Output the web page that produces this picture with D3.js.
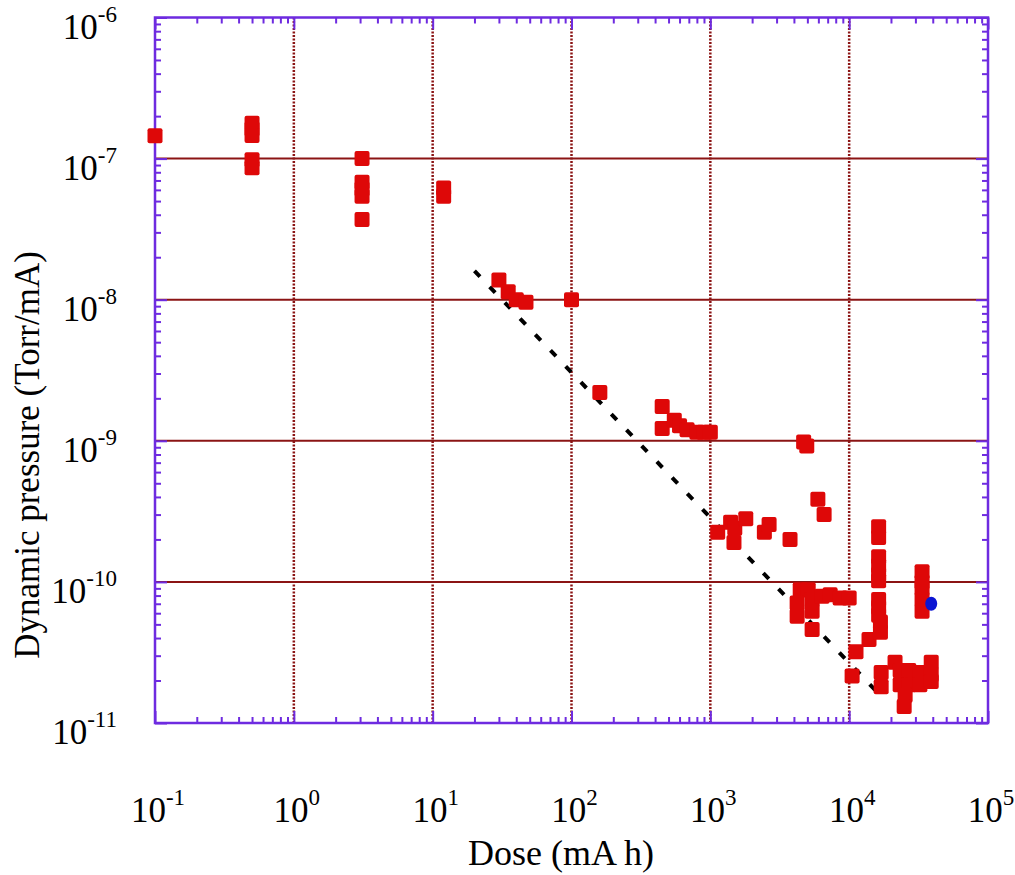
<!DOCTYPE html>
<html>
<head>
<meta charset="utf-8">
<script src="https://cdn.jsdelivr.net/npm/d3@7"></script>
<style>
  body { margin: 0; background: #fff; }
  svg { display: block; font-family: "Liberation Serif", "Times New Roman", serif; }
</style>
</head>
<body>
<div id="chart"></div>
<script>
// red points: dose (mA h) and dynamic pressure (Torr/mA)
var dose = [0.1, 0.5, 0.5, 0.5, 0.5, 0.5,
    3.1, 3.1, 3.1, 3.1, 3.1, 12, 12,
    30, 35, 40, 47, 100, 160,
    450, 450, 550, 600, 680, 800, 900, 1000,
    4700, 4950, 5950, 6600,
    1130, 1400, 1500, 1480, 1800, 2450, 2650, 3750,
    4440, 5070, 4220, 4220, 5410, 5410, 5410, 6380, 7290, 8610, 10000,
    11200, 10500, 13900,
    16300, 16300, 16300, 16300, 16300, 16300, 16300, 16300, 16300, 16800, 16800,
    33500, 33500, 33500, 33500, 33500,
    17000, 17000, 21400, 23300, 26900, 23300, 26900, 25300, 24900, 32300, 32300, 39000, 39000, 39000];
var pressure = [1.45e-7, 1.78e-7, 1.62e-7, 1.46e-7, 9.8e-8, 8.6e-8,
    1.0e-7, 6.8e-8, 6.1e-8, 5.4e-8, 3.7e-8, 6.2e-8, 5.4e-8,
    1.38e-8, 1.14e-8, 1.0e-8, 9.6e-9, 1.0e-8, 2.2e-9,
    1.75e-9, 1.22e-9, 1.4e-9, 1.28e-9, 1.2e-9, 1.15e-9, 1.15e-9, 1.15e-9,
    9.8e-10, 9.2e-10, 3.85e-10, 3.0e-10,
    2.25e-10, 2.65e-10, 2.4e-10, 1.9e-10, 2.8e-10, 2.25e-10, 2.55e-10, 2.0e-10,
    8.8e-11, 8.8e-11, 7.1e-11, 5.7e-11, 7.5e-11, 6.2e-11, 4.6e-11, 7.9e-11, 8.1e-11, 7.7e-11, 7.7e-11,
    3.2e-11, 2.15e-11, 3.9e-11,
    2.46e-10, 2.06e-10, 1.51e-10, 1.3e-10, 1.13e-10, 1.02e-10, 7.5e-11, 6.6e-11, 5.8e-11, 5.2e-11, 4.4e-11,
    1.18e-10, 1.0e-10, 9.0e-11, 7.5e-11, 6.2e-11,
    2.28e-11, 1.81e-11, 2.69e-11, 2.36e-11, 2.36e-11, 1.87e-11, 1.87e-11, 1.57e-11, 1.31e-11, 2.28e-11, 1.87e-11, 2.69e-11, 2.21e-11, 1.97e-11];

// blue point
var blueDose = [39000];
var bluePressure = [7.0e-11];

// dashed fit line end points
var fitDose = [20, 15500];
var fitPressure = [1.6e-8, 1.7e-11];

var xDecades = [-1, 0, 1, 2, 3, 4, 5];
var yDecades = [-6, -7, -8, -9, -10, -11];

var width = 1015, height = 875;
var mLeft = 155, mRight = 988, mTop = 17.5, mBottom = 723;
var purple = "#6e2be0", gridRed = "#8b1414";

var svg = d3.select("#chart").append("svg")
    .attr("width", width)
    .attr("height", height);

var x = d3.scaleLog().domain([0.1, 1e5]).range([mLeft, mRight]);
var y = d3.scaleLog().domain([1e-11, 1e-6]).range([mBottom, mTop]);

var xMajor = xDecades.map(function(e){ return Math.pow(10, e); });
var yMajor = yDecades.map(function(e){ return Math.pow(10, e); });
function notDecade(v){ return Math.abs(Math.log10(v) - Math.round(Math.log10(v))) > 1e-6; }
var xMinor = x.ticks().filter(notDecade);
var yMinor = y.ticks().filter(notDecade);

// grid lines
svg.selectAll(".hgrid")
    .data(yMajor.slice(1, -1))
    .enter().append("line")
    .attr("class", "hgrid")
    .attr("x1", mLeft).attr("x2", mRight)
    .attr("y1", function(d){ return y(d); })
    .attr("y2", function(d){ return y(d); })
    .attr("stroke", gridRed)
    .attr("stroke-width", 2);

svg.selectAll(".vgrid")
    .data(xMajor.slice(1, -1))
    .enter().append("line")
    .attr("class", "vgrid")
    .attr("x1", function(d){ return x(d); })
    .attr("x2", function(d){ return x(d); })
    .attr("y1", mTop).attr("y2", mBottom)
    .attr("stroke", gridRed)
    .attr("stroke-width", 2.5)
    .attr("stroke-dasharray", "2,1.5");

// axes with inward ticks (no labels)
function drawAxis(axisFn, scale, vals, size, tx, ty) {
    var g = svg.append("g")
        .attr("transform", "translate(" + tx + "," + ty + ")")
        .call(axisFn(scale).tickValues(vals).tickSize(size).tickFormat(""));
    g.select(".domain").remove();
    g.selectAll("line").attr("stroke", purple).attr("stroke-width", 2);
}
drawAxis(d3.axisBottom, x, xMajor, -12, 0, mBottom);
drawAxis(d3.axisBottom, x, xMinor, -6, 0, mBottom);
drawAxis(d3.axisTop, x, xMajor, -12, 0, mTop);
drawAxis(d3.axisTop, x, xMinor, -6, 0, mTop);
drawAxis(d3.axisLeft, y, yMajor, -12, mLeft, 0);
drawAxis(d3.axisLeft, y, yMinor, -6, mLeft, 0);
drawAxis(d3.axisRight, y, yMajor, -12, mRight, 0);
drawAxis(d3.axisRight, y, yMinor, -6, mRight, 0);

svg.append("rect")
    .attr("x", mLeft).attr("y", mTop)
    .attr("width", mRight - mLeft).attr("height", mBottom - mTop)
    .attr("fill", "none")
    .attr("stroke", purple)
    .attr("stroke-width", 2.5);

// fit line
var fitData = fitDose.map(function(d, i){ return [d, fitPressure[i]]; });
svg.append("path")
    .attr("d", d3.line().x(function(d){ return x(d[0]); }).y(function(d){ return y(d[1]); })(fitData))
    .attr("fill", "none")
    .attr("stroke", "#000")
    .attr("stroke-width", 4)
    .attr("stroke-dasharray", "8,14");

// red squares
var pts = dose.map(function(d, i){ return { dose: d, p: pressure[i] }; });
var s = 15;
svg.selectAll(".pt")
    .data(pts)
    .enter().append("rect")
    .attr("class", "pt")
    .attr("x", function(d){ return x(d.dose) - s / 2; })
    .attr("y", function(d){ return y(d.p) - s / 2; })
    .attr("width", s).attr("height", s)
    .attr("rx", 2)
    .attr("fill", "#de0808");

svg.selectAll(".blue")
    .data(blueDose)
    .enter().append("ellipse")
    .attr("class", "blue")
    .attr("cx", function(d){ return x(d); })
    .attr("cy", function(d, i){ return y(bluePressure[i]); })
    .attr("rx", 6).attr("ry", 7)
    .attr("fill", "#0b14d2");

// tick labels
var xl = svg.selectAll(".xlab")
    .data(xDecades)
    .enter().append("text")
    .attr("class", "xlab")
    .attr("x", function(d){ return x(Math.pow(10, d)) + 3; })
    .attr("y", 822)
    .attr("text-anchor", "middle")
    .attr("font-size", 35);
xl.append("tspan").text("10");
xl.append("tspan").attr("font-size", 23).attr("dy", -17).text(function(d){ return d; });

var yl = svg.selectAll(".ylab")
    .data(yDecades)
    .enter().append("text")
    .attr("class", "ylab")
    .attr("x", 117)
    .attr("y", function(d){ return y(Math.pow(10, d)) + 21; })
    .attr("text-anchor", "end")
    .attr("font-size", 35);
yl.append("tspan").text("10");
yl.append("tspan").attr("font-size", 23).attr("dy", -17).text(function(d){ return d; });

// axis titles
svg.append("text")
    .attr("x", 561).attr("y", 865)
    .attr("text-anchor", "middle")
    .attr("font-size", 36)
    .text("Dose (mA h)");

svg.append("text")
    .attr("transform", "translate(39,455) rotate(-90)")
    .attr("text-anchor", "middle")
    .attr("font-size", 35)
    .text("Dynamic pressure (Torr/mA)");
</script>
</body>
</html>
